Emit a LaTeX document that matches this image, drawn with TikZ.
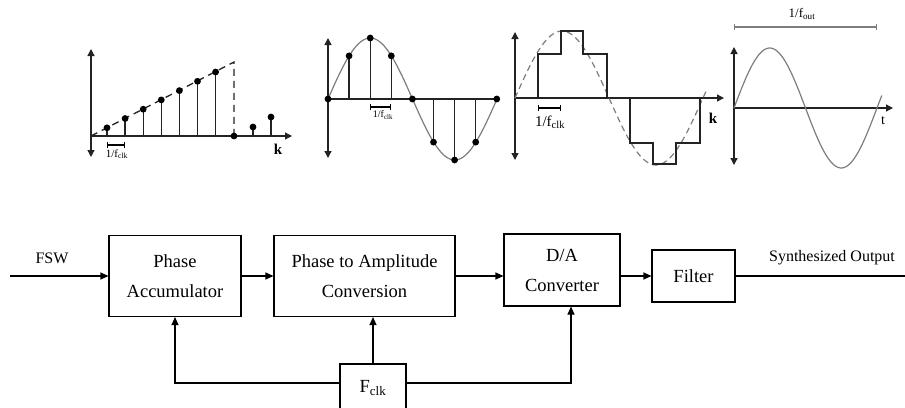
\documentclass[tikz,border=0pt]{standalone}
\usepackage{fontspec}
\setmainfont{Liberation Serif}
\usetikzlibrary{arrows.meta,positioning}
\definecolor{curvegray}{RGB}{125,125,125}
\definecolor{axisgray}{RGB}{35,35,35}

\begin{document}
\begin{tikzpicture}[x=1pt, y=-1pt, line width=1.1pt, >={Triangle[length=8pt,width=7pt]},
  block/.style={draw, line width=1.1pt, align=center, inner sep=0pt, font=\fontsize{18.5}{30}\selectfont},
  vaxis/.style={line width=1.3pt, axisgray, {Triangle[length=7pt,width=7pt]}-{Triangle[length=7pt,width=7pt]}},
  haxis/.style={line width=1.3pt, axisgray, -{Triangle[length=7pt,width=7pt]}},
  stemline/.style={line width=1.3pt, axisgray},
  periodbar/.style={line width=1.2pt, {Bar[width=6pt]}-{Bar[width=6pt]}},
  wave/.style={curvegray, line width=1.2pt}]
\useasboundingbox (0,0) rectangle (905,407);
\clip (0,0) rectangle (905,407);

% ramp of the phase accumulator
\draw[vaxis] (91,157) -- (91,49);
\draw[haxis] (91,136) -- (292,136);
\draw[stemline, dash pattern=on 7pt off 5pt] (91,136) -- (234,62) -- (234,136);
\foreach \n in {0,...,6} {
  \draw[stemline] ({107+18.1*\n},136) -- ({107+18.1*\n},{127.8-9.3*\n});
  \fill ({107+18.1*\n},{127.8-9.3*\n}) circle (3.4pt);
}
\fill (234,136) circle (3.4pt);
\draw[stemline] (253,136) -- (253,127);
\fill (253,127) circle (3.4pt);
\draw[stemline] (271,136) -- (271,117);
\fill (271,117) circle (3.4pt);
\draw[periodbar] (107,145) -- (125,145);
\node[font=\fontsize{11}{11}\selectfont] (clkA) at (117,154) {1/f\textsubscript{clk}};
\node[font=\fontsize{15}{15}\selectfont\bfseries] (kA) at (278,149) {k};

% sampled sine
\draw[vaxis] (328,158) -- (328,38);
\draw[stemline] (328,99) -- (497,99);
\draw[wave] plot[domain=0:360, samples=80] ({328+\x/360*169}, {99-61*sin(\x)});
\foreach \i in {0,...,8} {
  \draw[stemline] ({328+21.1*\i},99) -- ({328+21.1*\i},{99-61*sin(45*\i)});
  \fill ({328+21.1*\i},{99-61*sin(45*\i)}) circle (3.4pt);
}
\draw[periodbar] (370,107) -- (391,107);
\node[font=\fontsize{10}{10}\selectfont] (clkB) at (383,115) {1/f\textsubscript{clk}};

% staircase from the converter
\draw[vaxis] (515,160) -- (515,32);
\draw[haxis] (515,98) -- (724,98);
\draw[wave, dash pattern=on 6pt off 4pt] plot[domain=0:368, samples=90] ({515+\x/360*188}, {98-67*sin(\x)});
\draw[stemline] (538,98) -- (538,54) -- (561,54) -- (561,31) -- (583,31) -- (583,54)
  -- (607,54) -- (607,98);
\draw[stemline] (630,98) -- (630,143) -- (653,143) -- (653,164) -- (676,164) -- (676,143)
  -- (700,143) -- (700,98);
\draw[periodbar] (538,108) -- (561,108);
\node[font=\fontsize{15}{15}\selectfont] (clkC) at (550,122) {1/f\textsubscript{clk}};
\node[font=\fontsize{15}{15}\selectfont\bfseries] (kC) at (713,118) {k};

% filtered output
\draw[periodbar, curvegray] (734,27) -- (877,27);
\node[font=\fontsize{13}{13}\selectfont] (fout) at (802,14) {1/f\textsubscript{out}};
\draw[vaxis] (734,165) -- (734,47);
\draw[haxis] (734,108) -- (893,108);
\draw[wave] plot[domain=0:372, samples=90] ({734+\x/360*143}, {108-60*sin(\x)});
\node[font=\fontsize{14}{14}\selectfont] (tD) at (883,121) {t};

% block diagram
\node[block, minimum width=132pt, minimum height=81pt] (acc) at (175,276) {Phase\\Accumulator};
\node[block, minimum width=181pt, minimum height=81pt] (p2a) at (364.5,276) {Phase to Amplitude\\Conversion};
\node[block, minimum width=116pt, minimum height=72pt] (dac) at (562,270) {D/A\\Converter};
\node[block, minimum width=83pt, minimum height=52pt] (filt) at (693.5,276) {Filter};
\node[block, minimum width=66pt, minimum height=48pt] (clk) at (373,388) {F\textsubscript{clk}};
\node[font=\fontsize{16}{16}\selectfont] (fsw) at (52,258) {FSW};
\node[font=\fontsize{16}{16}\selectfont] (synth) at (832,258) {Synthesized Output};
\coordinate (fswin) at (10,276);
\coordinate (synout) at (905,276);

\draw[->] (fswin) -- (acc);
\draw[->] (acc) -- (p2a);
\draw[->] (p2a.east) -- (p2a.east -| dac.west);
\draw[->] (filt.west -| dac.east) -- (filt);
\draw (filt) -- (synout);
\draw[->] ([yshift=5pt]clk.west) -| (acc);
\draw[->] (clk.north) -- (clk.north |- p2a.south);
\draw[->] ([yshift=5pt]clk.east) -| ([xshift=9pt]dac.south);
\end{tikzpicture}
\end{document}
